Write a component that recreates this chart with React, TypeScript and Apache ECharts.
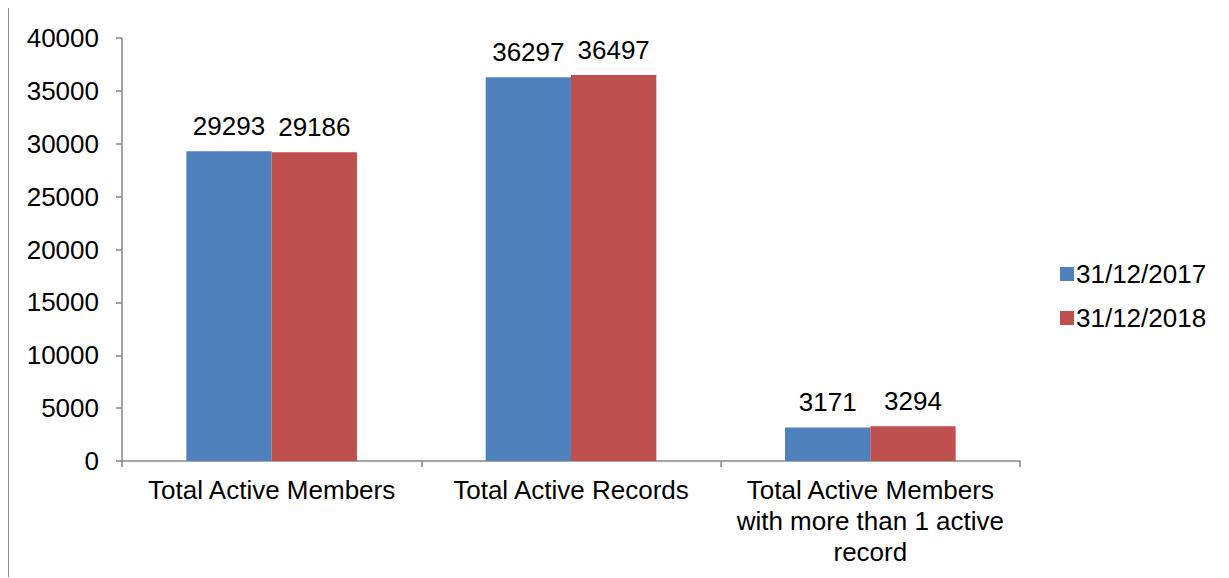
import React, { useEffect, useRef } from "react";
import * as echarts from "echarts";

const categories = [
  "Total Active Members",
  "Total Active Records",
  "Total Active Members\nwith more than 1 active\nrecord",
];
const seriesNames = ["31/12/2017", "31/12/2018"];
const values2017 = [29293, 36297, 3171];
const values2018 = [29186, 36497, 3294];
const colors = ["#4F81BD", "#C0504D"];

const FONT = "'Liberation Sans', Arial, sans-serif";
const FS = 26;

export default function App() {
  const ref = useRef<HTMLDivElement>(null);
  useEffect(() => {
    document.body.style.overflow = "hidden";
    const chart = echarts.init(ref.current!, null, { renderer: "svg" });
    const label = {
      show: true,
      position: "top" as const,
      distance: 12,
      color: "#000",
      fontSize: FS,
      fontFamily: FONT,
    };
    chart.setOption({
      animation: false,
      textStyle: { fontFamily: FONT },
      grid: { left: 113, right: 209, top: 30, bottom: 117, containLabel: false },
      legend: {
        orient: "vertical",
        left: 1046,
        top: 248,
        itemWidth: 14,
        itemHeight: 14,
        itemGap: 18,
        icon: "rect",
        textStyle: { fontSize: FS, color: "#000", fontFamily: FONT, padding: [0, 0, 0, -3] },
        data: seriesNames,
      },
      xAxis: {
        type: "category",
        data: categories,
        axisLine: { lineStyle: { color: "#868686", width: 1.5 } },
        axisTick: { show: true, length: 6, lineStyle: { color: "#868686", width: 1.5 } },
        axisLabel: {
          color: "#000",
          fontSize: FS,
          fontFamily: FONT,
          lineHeight: 31,
          margin: 13,
          interval: 0,
        },
      },
      yAxis: {
        type: "value",
        min: 0,
        max: 40000,
        interval: 5000,
        splitLine: { show: false },
        axisLine: { show: true, lineStyle: { color: "#868686", width: 1.5 } },
        axisTick: { show: true, length: 6, lineStyle: { color: "#868686", width: 1.5 } },
        axisLabel: {
          color: "#000",
          fontSize: FS,
          fontFamily: FONT,
          margin: 23,
          formatter: (v: number) => String(v),
        },
      },
      series: [
        {
          name: seriesNames[0],
          type: "bar",
          data: values2017,
          itemStyle: { color: colors[0] },
          barGap: "0%",
          barCategoryGap: "43%",
          label,
        },
        {
          name: seriesNames[1],
          type: "bar",
          data: values2018,
          itemStyle: { color: colors[1] },
          barGap: "0%",
          barCategoryGap: "43%",
          label,
        },
      ],
    });
    return () => chart.dispose();
  }, []);
  return (
    <div
      style={{
        width: 1221,
        height: 570,
        borderLeft: "1px solid #8c8c8c",
        borderTop: "1px solid #8c8c8c",
        boxSizing: "border-box",
        marginTop: -1,
      }}
    >
      <div ref={ref} style={{ width: 1220, height: 570 }} />
    </div>
  );
}
